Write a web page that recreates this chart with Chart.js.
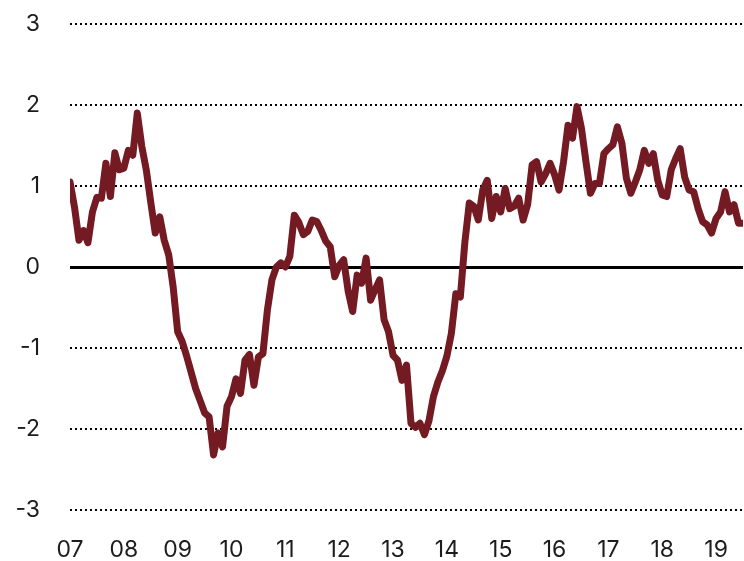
<!DOCTYPE html>
<html>
<head>
<meta charset="utf-8">
<script src="https://cdn.jsdelivr.net/npm/chart.js@4/dist/chart.umd.min.js"></script>
<style>
  html, body { margin: 0; padding: 0; background: #fff; }
  #wrap { width: 744px; height: 561px; }
</style>
</head>
<body>
<div id="wrap"><canvas id="myChart"></canvas></div>
<script>
// monthly readings, Jan 2007 onwards
const values = [
  1.05, 0.74, 0.33, 0.45, 0.30, 0.68, 0.86, 0.85, 1.28, 0.87, 1.41, 1.20,
  1.22, 1.44, 1.38, 1.90, 1.49, 1.20, 0.80, 0.42, 0.62, 0.33, 0.15, -0.25,
  -0.80, -0.92, -1.10, -1.30, -1.50, -1.65, -1.80, -1.85, -2.32, -2.05, -2.22, -1.72,
  -1.60, -1.38, -1.56, -1.15, -1.08, -1.46, -1.11, -1.07, -0.53, -0.16, 0.00, 0.05,
  0.00, 0.13, 0.64, 0.55, 0.40, 0.44, 0.58, 0.56, 0.45, 0.32, 0.25, -0.12,
  0.02, 0.09, -0.30, -0.55, -0.10, -0.20, 0.11, -0.41, -0.28, -0.16, -0.65, -0.80,
  -1.09, -1.15, -1.40, -1.21, -1.93, -1.98, -1.93, -2.07, -1.90, -1.60, -1.42, -1.28,
  -1.10, -0.82, -0.33, -0.37, 0.30, 0.79, 0.75, 0.58, 0.95, 1.07, 0.60, 0.87,
  0.68, 0.97, 0.72, 0.75, 0.85, 0.58, 0.77, 1.26, 1.30, 1.05, 1.15, 1.28,
  1.14, 0.95, 1.30, 1.75, 1.59, 1.98, 1.71, 1.30, 0.91, 1.03, 1.03, 1.40,
  1.46, 1.51, 1.73, 1.53, 1.10, 0.91, 1.05, 1.20, 1.44, 1.28, 1.40, 1.07,
  0.89, 0.87, 1.20, 1.34, 1.46, 1.11, 0.95, 0.93, 0.72, 0.56, 0.52, 0.42,
  0.60, 0.68, 0.93, 0.68, 0.77, 0.54, 0.54
];
const yearLabels = ['07', '08', '09', '10', '11', '12', '13', '14', '15', '16', '17', '18', '19'];
const yTicks = [-3, -2, -1, 0, 1, 2, 3];

const points = values.map((v, i) => ({ x: i, y: v }));

const tickFont = { family: 'Inter', size: 23 };
const textColor = '#1c1c1c';

const chart = new Chart(document.getElementById('myChart'), {
  type: 'line',
  data: {
    datasets: [{
      data: points,
      borderColor: '#741a22',
      borderWidth: 7,
      borderJoinStyle: 'round',
      borderCapStyle: 'round',
      pointRadius: 0,
      tension: 0
    }]
  },
  options: {
    responsive: true,
    maintainAspectRatio: false,
    animation: false,
    layout: { padding: { top: 24, right: 1, bottom: 0, left: 0 } },
    plugins: { legend: { display: false }, tooltip: { enabled: false } },
    scales: {
      x: {
        type: 'linear',
        min: 0,
        max: values.length - 1,
        afterFit: scale => {
          scale.height = 51;
          // last year label is not at the edge, so no room needed for it
          scale.paddingLeft = 0;
          scale.paddingRight = 0;
        },
        afterBuildTicks: scale => {
          scale.ticks = yearLabels.map((l, i) => ({ value: i * 12 }));
        },
        grid: { display: false, drawTicks: false },
        border: { display: false },
        ticks: {
          autoSkip: false,
          maxRotation: 0,
          padding: 26,
          color: textColor,
          font: tickFont,
          callback: v => yearLabels[v / 12]
        }
      },
      y: {
        min: -3,
        max: 3,
        afterFit: scale => {
          scale.width = 70;
          // tick padding would otherwise push the plot area down
          scale.paddingTop = 0;
          scale.paddingBottom = 0;
        },
        afterBuildTicks: scale => {
          scale.ticks = yTicks.map(v => ({ value: v }));
        },
        grid: {
          drawTicks: false,
          color: '#000',
          lineWidth: ctx => ctx.tick && ctx.tick.value === 0 ? 3 : 2
        },
        border: {
          display: false,
          dash: ctx => ctx.tick && ctx.tick.value === 0 ? [] : [2, 3]
        },
        ticks: {
          padding: 30,
          color: textColor,
          font: tickFont
        }
      }
    }
  }
});
</script>
</body>
</html>
